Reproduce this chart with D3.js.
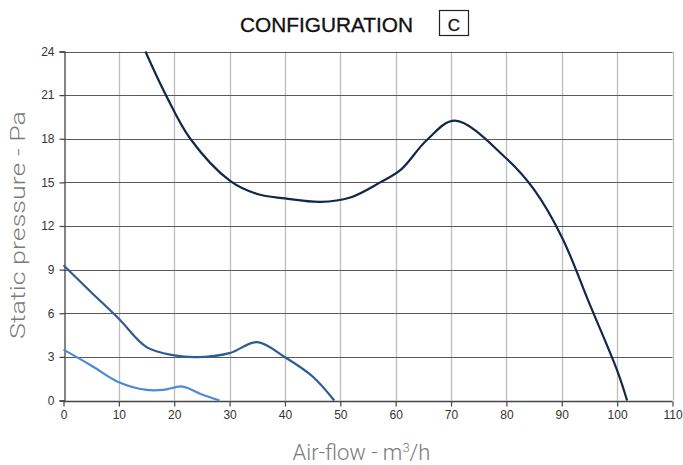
<!DOCTYPE html>
<html><head><meta charset="utf-8">
<script src="https://cdn.jsdelivr.net/npm/d3@7"></script>
<style>
html,body{margin:0;padding:0;background:#fff;}
svg{display:block;font-family:"Liberation Sans",Arial,Helvetica,sans-serif;}
</style></head>
<body><svg id="c" width="683" height="465"></svg>
<script>
const xTicks = [0,10,20,30,40,50,60,70,80,90,100,110];
const yTicks = [0,3,6,9,12,15,18,21,24];
const curveHighX = [14.8,18.5,22.9,30.1,35,40,46.4,51.8,57.2,61,65.6,70.7,80,85,90,95,100,101.8];
const curveHighY = [24,21,18,15.1,14.2,13.9,13.66,13.96,15.0,15.9,17.9,19.24,16.64,14.5,11.25,6.66,2.07,0];
const curveMidX = [0,5,10,15,20,24,30,35,40,45,48.9];
const curveMidY = [9.3,7.45,5.62,3.67,3.1,2.98,3.26,4.02,2.98,1.65,0];
const curveLowX = [0,5,10,15,18,21.5,25,28.2];
const curveLowY = [3.5,2.41,1.26,0.73,0.73,0.96,0.41,0];

const svg = d3.select("#c");
const x = d3.scaleLinear().domain([0,110]).range([63.5,672.5]);
const y = d3.scaleLinear().domain([0,24]).range([400.5,51.5]);

// vertical grid
svg.append("g").selectAll("line").data(xTicks.slice(1)).join("line")
  .attr("x1",d=>Math.round(x(d))+0.5).attr("x2",d=>Math.round(x(d))+0.5)
  .attr("y1",y(24)).attr("y2",y(0))
  .attr("stroke","#bdbdbd").attr("stroke-width",1.3);
// horizontal grid
svg.append("g").selectAll("line").data(yTicks.slice(1)).join("line")
  .attr("x1",x(0)).attr("x2",x(110))
  .attr("y1",d=>Math.round(y(d))+0.5).attr("y2",d=>Math.round(y(d))+0.5)
  .attr("stroke","#5a5a5a").attr("stroke-width",1.1);

// axes
const xAxis = d3.axisBottom(x).tickValues(xTicks).tickSize(5).tickPadding(4).tickFormat(d3.format("d"));
const yAxis = d3.axisLeft(y).tickValues(yTicks).tickSize(5).tickPadding(5).tickFormat(d3.format("d"));
const gx = svg.append("g").attr("transform",`translate(0,${Math.round(y(0))+0.5})`).call(xAxis);
const gy = svg.append("g").attr("transform",`translate(${Math.round(x(0))+0.5},0)`).call(yAxis);
[gx,gy].forEach(g=>{
  g.select(".domain").attr("stroke","#444").attr("stroke-width",1.3);
  g.selectAll(".tick line").attr("stroke","#444").attr("stroke-width",1.2);
  g.selectAll(".tick text").attr("fill","#333").style("font-size","12px")
    .style("font-family","'Liberation Sans',Arial,sans-serif");
});
gx.select(".domain").attr("d",`M${x(0)},0H${x(110)}`);

// curves
const line = d3.line().x(d=>x(d[0])).y(d=>y(d[1])).curve(d3.curveCatmullRom.alpha(0.5));
const series = [
  {xs:curveHighX, ys:curveHighY, color:"#11284a"},
  {xs:curveMidX, ys:curveMidY, color:"#2d5c96"},
  {xs:curveLowX, ys:curveLowY, color:"#4c8ad6"}
];
series.forEach(s=>{
  svg.append("path").datum(s.xs.map((v,i)=>[v,s.ys[i]]))
    .attr("d",line).attr("fill","none").attr("stroke",s.color)
    .attr("stroke-width",2.2).attr("stroke-linejoin","round");
});

// title
svg.append("text").attr("x",240).attr("y",31.5)
  .attr("textLength",173).attr("lengthAdjust","spacingAndGlyphs")
  .style("font-size","21px").attr("fill","#111").attr("stroke","#111").attr("stroke-width",0.35)
  .text("CONFIGURATION");
svg.append("rect").attr("x",439.5).attr("y",10.5).attr("width",29).attr("height",25)
  .attr("fill","none").attr("stroke","#222").attr("stroke-width",1.2);
svg.append("text").attr("x",454).attr("y",30.5).attr("text-anchor","middle")
  .style("font-size","17px").attr("fill","#111").attr("stroke","#111").attr("stroke-width",0.3).text("C");

// axis labels
svg.append("text").attr("transform","translate(25,225) rotate(-90)")
  .attr("text-anchor","middle").attr("fill","#7a7a7a")
  .attr("textLength",228).attr("lengthAdjust","spacingAndGlyphs")
  .style("font-size","21px").style("font-family","Roboto,'Liberation Sans',sans-serif").style("font-weight","300")
  .text("Static pressure - Pa");
const xl = svg.append("text").attr("x",361.5).attr("y",460).attr("text-anchor","middle")
  .attr("fill","#7a7a7a")
  .style("font-size","22px").style("font-family","Roboto,'Liberation Sans',sans-serif").style("font-weight","300");
xl.append("tspan").text("Air-flow - m");
xl.append("tspan").attr("dy",-8).style("font-size","13px").text("3");
xl.append("tspan").attr("dy",8).text("/h");
</script></body></html>
